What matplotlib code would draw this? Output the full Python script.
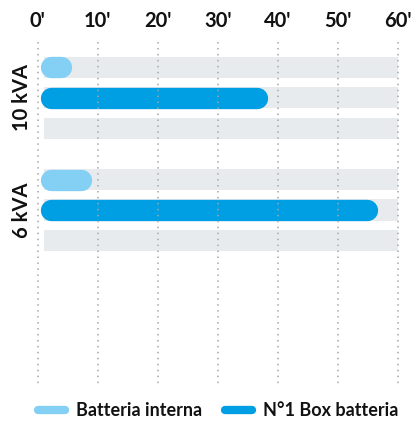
import numpy as np
import matplotlib
matplotlib.use("Agg")
import matplotlib.pyplot as plt
from matplotlib.lines import Line2D

# data (minutes of autonomy)
groups = ["10 kVA", "6 kVA"]
series = ["Batteria interna", "N°1 Box batteria"]
interna = [5.7, 9.0]
box = [38.3, 56.6]
ticks = [0, 10, 20, 30, 40, 50, 60]
tick_labels = ["0'", "10'", "20'", "30'", "40'", "50'", "60'"]

col_light = "#84d0f5"
col_dark = "#009fe3"
col_bg = "#e8ebee"
col_grid = "#a6a6a6"

plt.rcParams["font.family"] = ["Lato", "DejaVu Sans"]

W, H = 412, 421
fig = plt.figure(figsize=(W / 100, H / 100), dpi=100)
ax = fig.add_axes([37.5 / W, 1 - 386 / H, 360.5 / W, 344 / H])

row_px = 30.5
group_step = 3.69
bar_h = 0.70
bar_px = bar_h * row_px
cap = (bar_px / 2) / (360.5 / 60)   # round cap radius in minutes
start = 0.42

xmax = ticks[-1]
for g, name in enumerate(groups):
    base = g * group_step
    rows = [base, base + 1, base + 2]
    # grey tracks
    ax.barh(rows, xmax - 1, left=1, height=bar_h, color=col_bg, zorder=1)
    # rounded value bars as thick lines with round caps
    for r, val, c in [(rows[0], interna[g], col_light), (rows[1], box[g], col_dark)]:
        ax.plot([start + cap, val - cap], [r, r], color=c,
                lw=bar_px * 0.72, solid_capstyle="round", zorder=2)

top = -25.5 / row_px
bottom = (group_step + 2) + 146 / row_px
ax.set_ylim(bottom, top)
ax.set_xlim(0, xmax)

# dotted vertical guides
ax.vlines(ticks, top, bottom, colors=col_grid, lw=1.1,
          linestyles=[(0, (1, 2.9))], zorder=3, clip_on=False)

ax.xaxis.tick_top()
ax.set_xticks(ticks)
ax.set_xticklabels(tick_labels, fontsize=14.5, fontweight="bold", color="#111111")
ax.tick_params(axis="x", length=0, pad=8)

ax.set_yticks([g * group_step + 1 for g in range(len(groups))])
ax.set_yticklabels(groups, rotation=90, va="center", fontsize=14.5,
                   fontweight="bold", color="#111111")
ax.tick_params(axis="y", length=0, pad=4)

for s in ax.spines.values():
    s.set_visible(False)

handles = [Line2D([0], [0], color=col_light, lw=6, solid_capstyle="round"),
           Line2D([0], [0], color=col_dark, lw=6, solid_capstyle="round")]
leg = fig.legend(handles, series, loc="center", bbox_to_anchor=(218 / W, 1 - 411 / H),
                 ncol=2, frameon=False, handlelength=1.5, handletextpad=0.6,
                 columnspacing=1.3, prop={"size": 13, "weight": "bold"})
for t in leg.get_texts():
    t.set_color("#111111")

fig.savefig("out.png", dpi=100)
